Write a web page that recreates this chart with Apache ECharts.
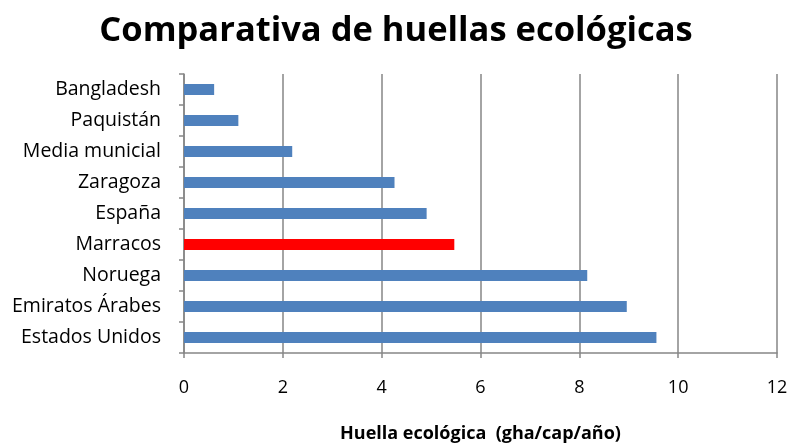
<!DOCTYPE html>
<html>
<head>
<meta charset="utf-8">
<script src="https://cdn.jsdelivr.net/npm/echarts@6/dist/echarts.min.js"></script>
<style>html,body{margin:0;padding:0;background:#fff;}#c{width:792px;height:448px;}</style>
</head>
<body>
<div id="c"></div>
<script>
const categories = ["Bangladesh", "Paquistán", "Media municial", "Zaragoza", "España", "Marracos", "Noruega", "Emiratos Árabes", "Estados Unidos"];
const values = [0.61, 1.10, 2.19, 4.26, 4.91, 5.47, 8.16, 8.96, 9.56];
const highlight = "Marracos";
const xTicks = [0, 2, 4, 6, 8, 10, 12];

const font = "'Open Sans', Lato, sans-serif";
const chart = echarts.init(document.getElementById('c'), null, {renderer: 'canvas'});
chart.setOption({
  animation: false,
  backgroundColor: '#fff',
  title: {
    text: 'Comparativa de huellas ecológicas',
    left: 'center', top: 9,
    textStyle: {fontFamily: font, fontSize: 34.5, fontWeight: 'bold', color: '#000'}
  },
  grid: {left: 184, right: 15, top: 74, bottom: 95, containLabel: false, outerBoundsMode: 'none'},
  xAxis: {
    type: 'value', min: xTicks[0], max: xTicks[xTicks.length - 1], interval: 2,
    name: 'Huella ecológica  (gha/cap/año)',
    nameLocation: 'middle', nameGap: 72,
    nameTextStyle: {fontFamily: font, fontSize: 18, fontWeight: 'bold', color: '#000'},
    axisLine: {show: true, lineStyle: {color: '#868686', width: 1.5}},
    axisTick: {show: true, length: 5, lineStyle: {color: '#868686', width: 1.5}},
    axisLabel: {fontFamily: font, fontSize: 18, color: '#000', margin: 26},
    splitLine: {show: true, lineStyle: {color: '#868686', width: 1.5}}
  },
  yAxis: {
    type: 'category', data: categories, inverse: true,
    axisLine: {show: true, lineStyle: {color: '#868686', width: 1.5}},
    axisTick: {show: true, length: 5, inside: false, lineStyle: {color: '#868686', width: 1.5}},
    axisLabel: {fontFamily: font, fontSize: 19.5, color: '#000', margin: 23},
    splitLine: {show: false}
  },
  series: [{
    type: 'bar',
    data: values.map((v, i) => ({
      value: v,
      itemStyle: {color: categories[i] === highlight ? '#FF0000' : '#4F81BD'}
    })),
    barWidth: 11
  }]
});
</script>
</body>
</html>
